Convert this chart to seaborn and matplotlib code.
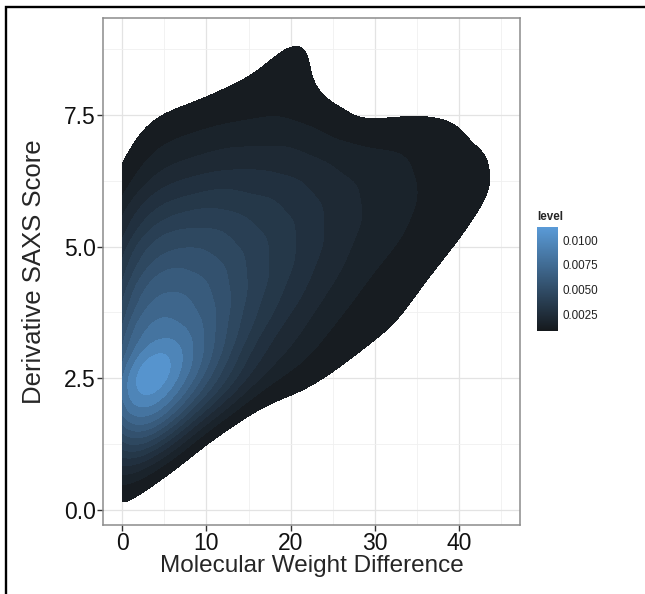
import numpy as np
import pandas as pd
import matplotlib
matplotlib.use("Agg")
import matplotlib.pyplot as plt
import seaborn as sns
from matplotlib.colors import LinearSegmentedColormap, Normalize
from matplotlib.cm import ScalarMappable
from matplotlib.patches import Rectangle
from matplotlib.ticker import MultipleLocator, FixedLocator

mw_diff = [0, 0, 0, 0, 0, 0, 0, 0, 0,
           3, 3, 3, 3, 3, 3, 3, 3, 3, 3,
           6, 6, 6, 6, 6, 6, 6, 6, 6, 6,
           9.5, 9.5, 9.5, 9.5, 9.5, 9.5, 9.5, 9.5, 9.5, 9.5,
           13, 13, 13, 13, 13, 13, 13, 13, 13, 13,
           17, 17, 17, 17, 17, 17, 17, 17, 17, 17,
           21, 21, 21, 21, 21, 21, 21, 21, 21, 21, 21,
           25, 25, 25, 25, 25, 25, 25, 25, 25,
           29, 29, 29, 29, 29, 29, 29,
           33, 33, 33, 33, 33, 33, 33,
           37, 37, 37, 37, 37, 37,
           41, 41, 41, 41, 41,
           44.9, 44.9, 44.9]
saxs_score = [0.15, 1.0, 1.75, 2.5, 3.25, 4.0, 4.75, 5.5, 6.25,
              1.0, 1.6, 2.2, 2.7, 3.5, 4.25, 5.0, 5.75, 6.5, 7.2,
              1.3, 1.9, 2.5, 3.1, 3.8, 4.5, 5.2, 5.9, 6.6, 7.3,
              1.8, 2.3, 2.9, 3.6, 4.3, 5.0, 5.7, 6.4, 7.1, 7.7,
              2.1, 2.6, 3.3, 4.0, 4.7, 5.4, 6.1, 6.8, 7.5, 8.1,
              2.4, 3.0, 3.7, 4.4, 5.1, 5.8, 6.5, 7.2, 7.9, 8.6,
              2.3, 2.8, 3.4, 4.1, 4.8, 5.5, 6.2, 6.9, 7.6, 8.3, 8.9,
              2.6, 3.1, 3.8, 4.5, 5.2, 5.9, 6.6, 7.3, 8.0,
              2.8, 3.5, 4.2, 4.9, 5.6, 6.3, 7.0,
              3.0, 3.8, 4.5, 5.2, 5.9, 6.6, 7.2,
              3.9, 4.6, 5.3, 6.0, 6.7, 7.3,
              4.6, 5.2, 5.9, 6.6, 7.3,
              5.4, 6.2, 6.9]
obs_weight = [0.4, 1.8, 3.6, 4.6, 3.6, 2.7, 1.9, 1.1, 0.3,
              0.8, 3.2, 5.8, 7.4, 4.4, 3.2, 2.3, 1.4, 0.7, 0.4,
              1.0, 2.9, 4.5, 4.6, 4.0, 3.3, 2.4, 1.5, 0.8, 0.4,
              0.9, 2.4, 3.5, 3.7, 3.4, 2.8, 2.0, 1.2, 0.6, 0.25,
              0.8, 1.8, 2.6, 2.9, 2.8, 2.3, 1.7, 1.0, 0.5, 0.2,
              0.6, 1.3, 2.0, 2.3, 2.3, 2.0, 1.4, 0.8, 0.45, 0.25,
              0.25, 0.6, 1.0, 1.5, 1.8, 1.8, 1.5, 1.0, 0.55, 0.45, 0.4,
              0.2, 0.45, 0.8, 1.1, 1.3, 1.3, 1.0, 0.5, 0.1,
              0.2, 0.4, 0.6, 0.85, 1.0, 0.95, 0.6,
              0.3, 0.35, 0.5, 0.7, 0.8, 0.7, 0.45,
              0.15, 0.3, 0.5, 0.6, 0.55, 0.35,
              0.1, 0.25, 0.4, 0.4, 0.25,
              0.2, 0.3, 0.25]

x_ticks = [0, 10, 20, 30, 40]
y_ticks = [0.0, 2.5, 5.0, 7.5]
y_tick_labels = ["0.0", "2.5", "5.0", "7.5"]
cbar_ticks = [0.0025, 0.0050, 0.0075, 0.0100]
cbar_tick_labels = ["0.0025", "0.0050", "0.0075", "0.0100"]
level_range = (0.0008, 0.0114)

df = pd.DataFrame({"mw": mw_diff, "saxs": saxs_score, "w": obs_weight})

sns.set_theme(style="white")
plt.rcParams["font.family"] = ["Liberation Sans", "DejaVu Sans"]

fig = plt.figure(figsize=(6.45, 5.94), dpi=100)
ax = fig.add_axes([0.160, 0.117, 0.646, 0.852])

cmap = LinearSegmentedColormap.from_list("gg", ["#15191d", "#5a9bd8"])
iso_levels = [0.03, 0.11, 0.19, 0.27, 0.35, 0.43, 0.51, 0.59, 0.67,
              0.75, 0.83, 0.90, 0.96, 1.0]

sns.kdeplot(data=df, x="mw", y="saxs", weights="w", fill=True, cut=0,
            levels=iso_levels, bw_adjust=0.55, cmap=cmap,
            gridsize=250, ax=ax, zorder=3)

ax.set_xlim(-2.25, 47.2)
ax.set_ylim(-0.285, 9.34)
ax.xaxis.set_major_locator(FixedLocator(x_ticks))
ax.xaxis.set_minor_locator(MultipleLocator(5))
ax.yaxis.set_major_locator(FixedLocator(y_ticks))
ax.yaxis.set_minor_locator(MultipleLocator(1.25))
ax.set_yticklabels(y_tick_labels)
ax.grid(True, which="major", color="#e3e3e3", lw=0.9, zorder=0)
ax.grid(True, which="minor", color="#f0f0f0", lw=0.6, zorder=0)
ax.set_axisbelow(True)
for s in ax.spines.values():
    s.set_color("#8c8c8c")
    s.set_linewidth(1.1)
ax.tick_params(axis="both", which="major", direction="out", length=4,
               width=1.0, color="#333333", labelsize=16.5, pad=1.5,
               labelcolor="#111111", bottom=True, left=True)
ax.tick_params(axis="both", which="minor", length=0)
ax.set_xlabel("Molecular Weight Difference", fontsize=17.5, labelpad=0)
ax.set_ylabel("Derivative SAXS Score", fontsize=18.5)
ax.yaxis.set_label_coords(-0.1375, 0.5)

cax = fig.add_axes([537.3 / 645, 1 - 330.7 / 594, 21 / 645, 104 / 594])
sm = ScalarMappable(norm=Normalize(*level_range), cmap=cmap)
cb = fig.colorbar(sm, cax=cax)
cb.outline.set_visible(False)
cb.set_ticks(cbar_ticks)
cb.set_ticklabels(cbar_tick_labels)
cax.tick_params(axis="y", direction="in", length=4, width=0.8, color="white",
                labelsize=8.4, labelcolor="#222222", left=True, right=True, pad=3)
fig.text(537.3 / 645, 1 - 217 / 594, "level", fontsize=8.4, fontweight="bold",
         ha="left", va="center")

fig.add_artist(Rectangle((5.5 / 645, -0.1), 2.0, 1 - 7 / 594 + 0.1,
                         transform=fig.transFigure, fill=False, lw=1.7,
                         edgecolor="black"))

fig.savefig("out.png", dpi=100)
